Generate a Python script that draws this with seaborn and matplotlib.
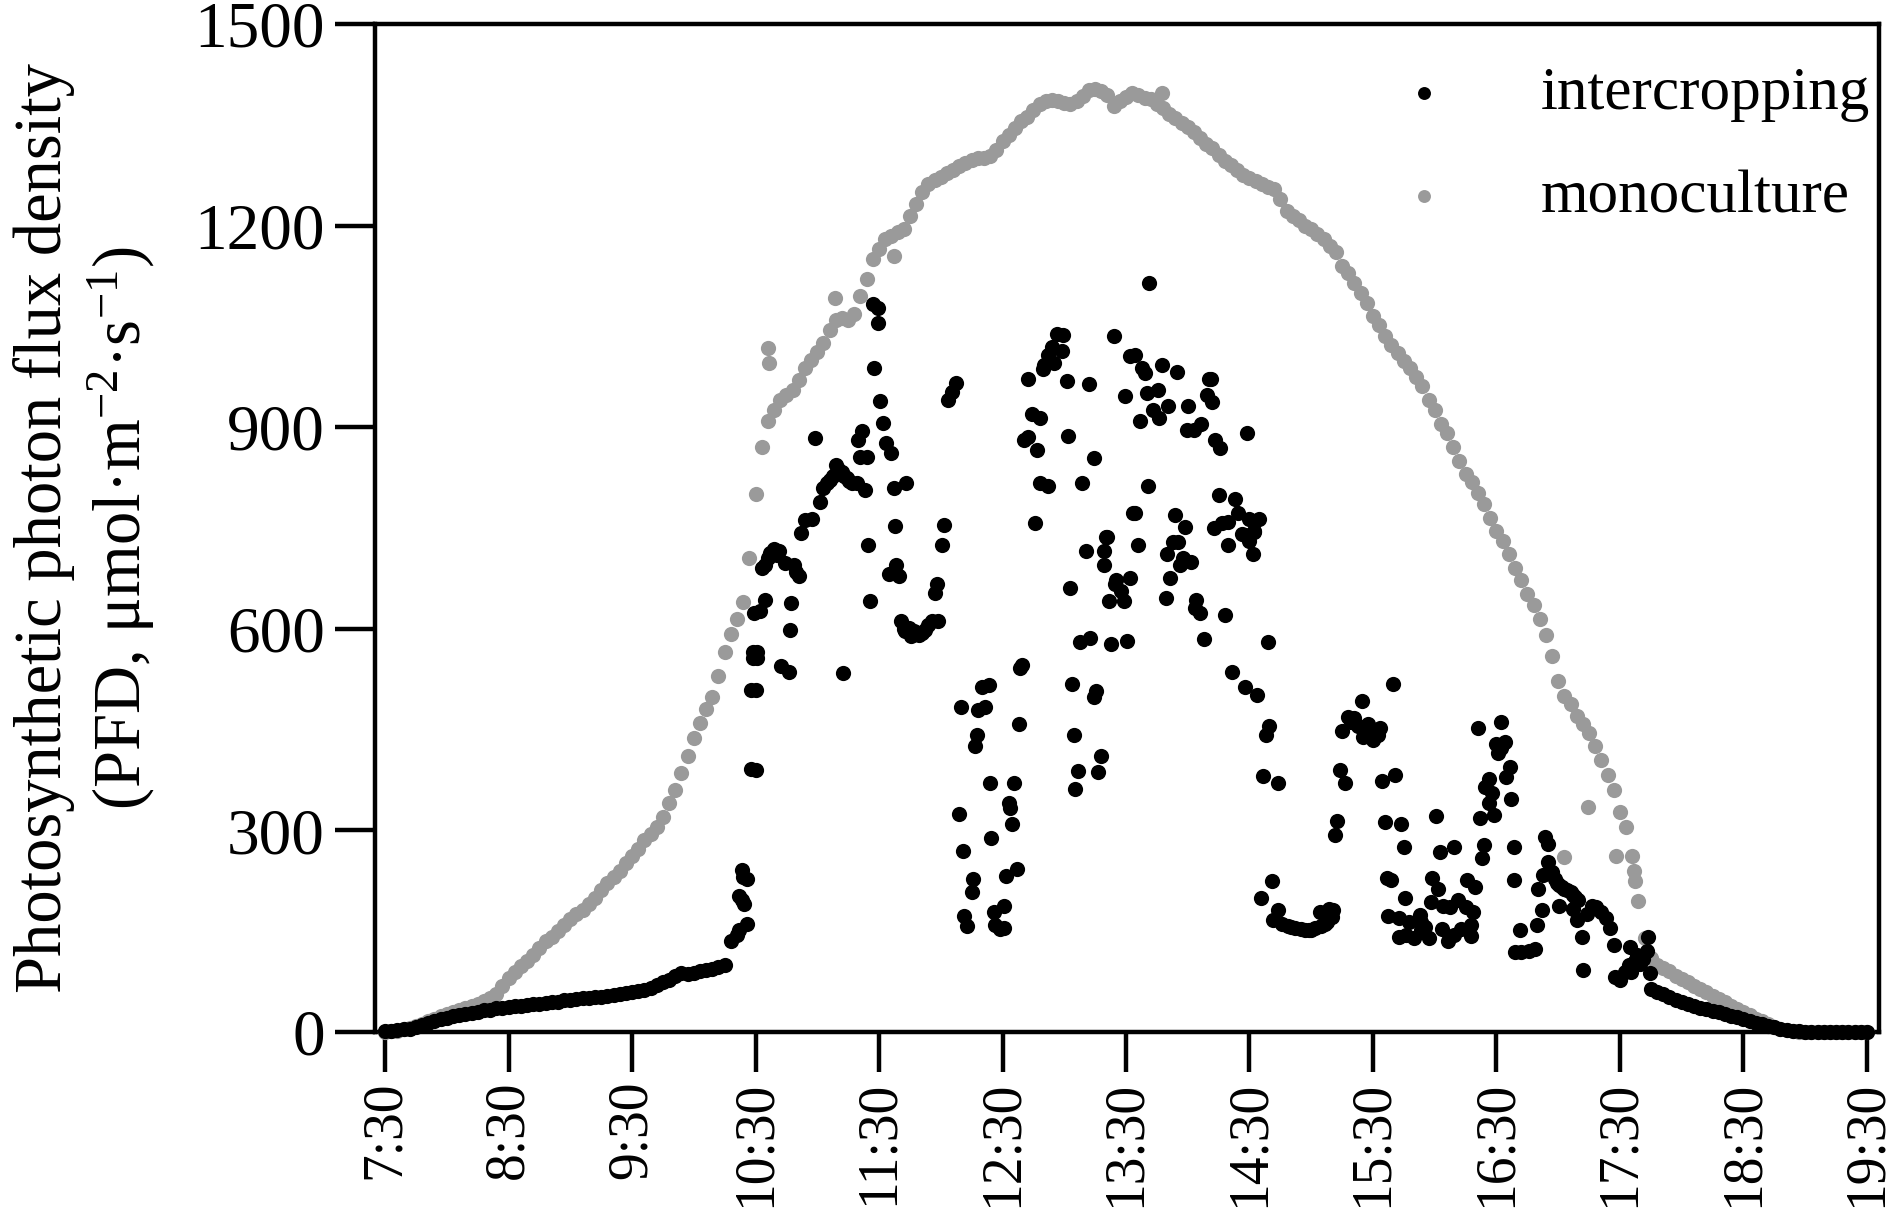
import numpy as np
import pandas as pd
import matplotlib
matplotlib.use('Agg')
import matplotlib.pyplot as plt
import seaborn as sns

# logger grid, minutes after 7:30 (every 3 min)
mono_minutes = np.arange(0, 721, 3)
mono_pfd = [
    0, 1, 2, 4, 6, 9, 12, 16, 20, 24, 27, 30, 33, 36, 39, 42, 46, 50, 57, 68,
    80, 89, 98, 106, 115, 125, 135, 142, 150, 159, 168, 175, 182, 191, 200, 211, 222, 231, 240, 251,
    262, 273, 285, 295, 305, 320, 340, 360, 385, 410, 437, 460, 480, 498, 530, 566, 592, 615, 640, 705,
    800, 870, 909, 925, 940, 948, 955, 970, 988, 1000, 1012, 1025, 1045, 1060, 1062, 1060, 1068, 1095, 1120, 1150,
    1165, 1180, 1185, 1190, 1195, 1215, 1232, 1250, 1262, 1268, 1272, 1278, 1283, 1288, 1293, 1297, 1300, 1301, 1303, 1312,
    1326, 1335, 1345, 1355, 1362, 1372, 1381, 1386, 1387, 1385, 1383, 1381, 1385, 1393, 1402, 1404, 1400, 1395, 1378, 1385,
    1392, 1398, 1395, 1390, 1388, 1381, 1375, 1366, 1360, 1352, 1347, 1340, 1330, 1322, 1316, 1305, 1296, 1290, 1282, 1275,
    1271, 1266, 1262, 1258, 1255, 1240, 1222, 1215, 1208, 1200, 1195, 1188, 1180, 1170, 1160, 1140, 1130, 1115, 1100, 1085,
    1065, 1052, 1035, 1022, 1010, 998, 988, 975, 962, 940, 925, 905, 892, 870, 850, 830, 818, 802, 785, 765,
    745, 730, 712, 690, 672, 651, 635, 615, 590, 560, 522, 500, 488, 470, 458, 445, 425, 405, 382, 360,
    328, 305, 262, 195, 140, 110, 100, 95, 90, 84, 79, 74, 69, 64, 59, 54, 49, 44, 39, 34,
    30, 25, 20, 16, 12, 8, 5, 3, 1, 0, 0, 0, 0, 0, 0, 0, 0, 0, 0, 0,
    0,
]

# monoculture readings (hour, PFD)
mono_extra = [
    (10.60, 1018), (10.61, 996), (11.14, 1092), (11.62, 1155), (13.79, 1398),
    (17.05, 261), (17.24, 335), (17.47, 262), (17.61, 240), (17.62, 224),
]

# intercropping: continuous parts at dawn and dusk
inter_am_minutes = np.arange(0, 166, 3)
inter_am_pfd = [
    2, 2, 3, 4, 5, 7, 10, 13, 16, 19,
    21, 23, 25, 27, 28, 30, 32, 33, 35, 36,
    37, 38, 39, 40, 41, 42, 43, 44, 45, 47,
    48, 49, 50, 51, 52, 52, 53, 55, 56, 58,
    59, 61, 63, 66, 70, 74, 78, 83, 88, 86,
    88, 90, 92, 94, 96, 99,
]
inter_pm_minutes = np.arange(615, 721, 3)
inter_pm_pfd = [
    64, 60, 56, 52, 47, 44, 41, 38, 36, 34,
    31, 29, 27, 24, 22, 20, 17, 14, 12, 9,
    7, 5, 3, 2, 1, 0, 0, 0, 0, 0,
    0, 0, 0, 0, 0, 0,
]

# intercropping: scattered readings under the canopy (hour, PFD)
inter_mid = [
    (10.30, 135), (10.35, 144), (10.37, 151), (10.43, 161), (10.39, 196), (10.41, 191),
    (10.37, 203), (10.40, 231), (10.43, 228), (10.39, 241), (10.46, 392), (10.46, 509),
    (10.48, 556), (10.48, 566), (10.49, 623),
    (10.50, 390), (10.50, 509), (10.51, 556), (10.51, 566), (10.54, 626), (10.55, 690),
    (10.58, 643), (10.58, 695), (10.60, 705), (10.62, 713), (10.65, 718), (10.67, 710),
    (10.69, 715), (10.71, 544), (10.74, 698), (10.77, 536), (10.78, 598), (10.79, 638),
    (10.81, 695), (10.83, 685), (10.85, 678), (10.87, 743), (10.90, 762), (10.96, 764),
    (10.98, 884), (11.02, 789), (11.05, 809), (11.08, 817), (11.10, 822), (11.13, 827),
    (11.15, 844), (11.17, 838), (11.20, 834), (11.22, 828), (11.24, 824), (11.26, 820),
    (11.28, 817), (11.32, 817), (11.21, 534),
    (11.33, 881), (11.36, 895), (11.35, 855), (11.40, 855), (11.39, 807), (11.41, 725),
    (11.43, 641), (11.45, 1083), (11.49, 1078), (11.49, 1055), (11.46, 988), (11.51, 939),
    (11.53, 906), (11.56, 876), (11.60, 861), (11.62, 809), (11.63, 753), (11.64, 695),
    (11.58, 681), (11.66, 679), (11.72, 817), (11.68, 611), (11.70, 600), (11.71, 596),
    (11.74, 601), (11.76, 589), (11.78, 596), (11.80, 592), (11.82, 591), (11.85, 594),
    (11.87, 598), (11.90, 606), (11.93, 611), (11.98, 611), (11.95, 653), (11.97, 667),
    (12.01, 725), (12.03, 754), (12.06, 940), (12.09, 953), (12.12, 966),
    (12.15, 324), (12.16, 484), (12.18, 269), (12.19, 173), (12.21, 158), (12.25, 209),
    (12.26, 228), (12.28, 425), (12.29, 442), (12.30, 479), (12.33, 514), (12.36, 484),
    (12.39, 517), (12.40, 371), (12.41, 288), (12.43, 178), (12.44, 159), (12.48, 153),
    (12.51, 154), (12.51, 187), (12.53, 232), (12.55, 340), (12.56, 334), (12.58, 310),
    (12.59, 371), (12.62, 243), (12.63, 458), (12.64, 541), (12.66, 546),
    (12.67, 881), (12.71, 886), (12.71, 972), (12.74, 920), (12.76, 757), (12.78, 866),
    (12.80, 913), (12.80, 817), (12.83, 986), (12.84, 993), (12.87, 1008), (12.87, 813),
    (12.90, 1019), (12.92, 996), (12.94, 1038), (12.98, 1013), (12.99, 1037), (13.02, 968),
    (13.03, 887), (13.14, 817), (13.20, 964), (13.24, 854), (13.40, 1035), (13.49, 947),
    (13.53, 1006),
    (13.05, 661), (13.06, 518), (13.08, 442), (13.09, 362), (13.11, 389), (13.13, 581),
    (13.18, 716), (13.21, 587), (13.24, 499), (13.26, 507), (13.27, 387), (13.30, 410),
    (13.32, 716), (13.32, 695), (13.34, 737), (13.35, 736), (13.36, 641), (13.38, 578),
    (13.41, 666), (13.42, 673), (13.46, 656), (13.48, 641), (13.51, 582), (13.53, 676),
    (13.56, 772),
    (13.57, 1008), (13.57, 772), (13.61, 909), (13.63, 988), (13.65, 981), (13.67, 951),
    (13.68, 812), (13.69, 1114), (13.72, 926), (13.76, 956), (13.77, 914), (13.79, 993),
    (13.84, 931), (13.90, 769), (13.91, 982), (13.98, 752), (13.99, 896), (14.00, 931),
    (14.05, 896), (14.11, 904), (14.16, 948), (14.17, 971), (14.19, 971), (14.20, 938),
    (14.21, 750), (14.22, 881), (14.25, 799), (14.26, 869), (14.28, 758), (14.33, 759),
    (14.38, 793), (14.41, 772), (14.46, 740), (14.48, 891), (14.50, 764), (14.54, 745),
    (14.58, 764),
    (13.60, 725), (13.82, 646), (13.83, 711), (13.86, 676), (13.88, 729), (13.92, 729),
    (13.94, 695), (13.96, 705), (14.03, 700), (14.06, 631), (14.07, 643), (14.10, 623),
    (14.13, 585), (14.30, 620), (14.33, 724), (14.36, 536), (14.44, 741), (14.46, 513),
    (14.50, 730), (14.53, 712), (14.54, 744), (14.56, 501), (14.59, 200), (14.61, 381),
    (14.63, 442), (14.65, 581), (14.66, 456), (14.68, 224), (14.73, 370),
    (14.69, 166), (14.73, 182), (14.76, 161), (14.81, 158), (14.84, 156), (14.87, 154),
    (14.92, 153), (14.95, 152), (14.98, 151), (15.00, 152), (15.03, 154), (15.07, 179),
    (15.08, 158), (15.11, 161), (15.13, 164), (15.14, 183), (15.17, 171), (15.18, 181),
    (15.19, 293), (15.21, 314), (15.23, 390), (15.25, 448), (15.27, 370), (15.30, 469),
    (15.32, 462), (15.35, 467), (15.38, 455), (15.41, 492), (15.42, 439), (15.44, 448),
    (15.46, 459), (15.48, 444), (15.50, 434), (15.54, 442), (15.56, 452), (15.57, 374),
    (15.60, 312), (15.61, 229), (15.62, 173), (15.65, 226), (15.66, 518), (15.68, 382),
    (15.71, 170), (15.71, 141), (15.73, 309), (15.75, 275), (15.76, 200), (15.77, 144),
    (15.79, 164), (15.83, 140), (15.88, 174), (15.89, 164), (15.89, 151), (15.92, 156),
    (15.95, 140), (15.97, 194), (15.98, 229), (16.01, 321), (16.03, 212), (16.04, 268),
    (16.06, 153), (16.07, 188), (16.11, 136), (16.12, 186), (16.16, 275), (16.16, 144),
    (16.19, 196), (16.21, 153), (16.25, 186), (16.26, 226), (16.29, 143), (16.29, 159),
    (16.31, 178), (16.33, 215),
    (16.35, 453), (16.37, 319), (16.38, 259), (16.40, 278), (16.41, 365), (16.44, 376),
    (16.44, 340), (16.46, 355), (16.48, 323), (16.50, 429), (16.51, 415), (16.54, 462),
    (16.54, 422), (16.57, 432), (16.58, 380), (16.61, 395), (16.62, 347), (16.64, 275),
    (16.64, 226), (16.69, 151), (16.65, 119), (16.70, 119), (16.76, 121), (16.81, 124),
    (16.83, 159), (16.87, 181), (16.84, 213), (16.88, 233), (16.89, 290), (16.92, 280),
    (16.92, 253), (16.95, 238), (16.97, 228), (16.99, 222), (17.01, 218), (17.03, 215),
    (17.05, 213), (17.07, 211), (17.10, 208), (17.12, 204), (17.14, 201), (17.16, 196),
    (17.01, 188), (17.12, 183), (17.15, 166), (17.19, 141), (17.20, 92), (17.23, 176),
    (17.27, 188), (17.31, 186), (17.35, 178), (17.39, 169), (17.42, 154), (17.45, 129),
    (17.46, 82), (17.50, 77), (17.54, 89), (17.57, 99), (17.58, 126), (17.59, 89),
    (17.62, 106), (17.64, 114), (17.66, 101), (17.69, 109), (17.72, 121), (17.73, 141),
    (17.74, 87),
]

tick_hours = [7.5, 8.5, 9.5, 10.5, 11.5, 12.5, 13.5, 14.5, 15.5, 16.5, 17.5, 18.5, 19.5]
tick_labels = ['7:30', '8:30', '9:30', '10:30', '11:30', '12:30', '13:30',
               '14:30', '15:30', '16:30', '17:30', '18:30', '19:30']
pfd_ticks = [0, 300, 600, 900, 1200, 1500]

BLACK = '#000000'
GRAY = '#9a9a9a'


def build_frames():
    mono_hours = list(7.5 + mono_minutes / 60) + [h for h, _ in mono_extra]
    mono_vals = list(mono_pfd) + [v for _, v in mono_extra]
    mono = pd.DataFrame({'hour': mono_hours, 'pfd': mono_vals})

    inter_hours = (list(7.5 + inter_am_minutes / 60) + [h for h, _ in inter_mid]
                   + list(7.5 + inter_pm_minutes / 60))
    inter_vals = list(inter_am_pfd) + [v for _, v in inter_mid] + list(inter_pm_pfd)
    inter = pd.DataFrame({'hour': inter_hours, 'pfd': inter_vals})
    return mono, inter


def main():
    sns.set_theme(style='ticks')
    plt.rcParams['font.family'] = ['Liberation Serif', 'DejaVu Serif']
    plt.rcParams['mathtext.fontset'] = 'custom'
    plt.rcParams['mathtext.rm'] = 'Liberation Serif'
    plt.rcParams['mathtext.default'] = 'regular'
    # seaborn greys the text, the figure uses plain black
    for key in ['text.color', 'axes.labelcolor', 'xtick.color', 'ytick.color',
                'xtick.labelcolor', 'ytick.labelcolor']:
        plt.rcParams[key] = 'black'

    mono, inter = build_frames()

    fig = plt.figure(figsize=(19, 12.24), dpi=100)
    ax = fig.add_axes([0.1974, 0.1569, 0.7915, 0.8235])

    # monoculture first so the intercropping dots sit on top
    sns.scatterplot(data=mono, x='hour', y='pfd', color=GRAY, s=120, linewidth=0,
                    clip_on=False, label='monoculture', ax=ax, zorder=3)
    sns.scatterplot(data=inter, x='hour', y='pfd', color=BLACK, s=120, linewidth=0,
                    clip_on=False, label='intercropping', ax=ax, zorder=4)

    ax.set_xlim(7.419, 19.597)
    ax.set_ylim(0, 1500)
    ax.set_xticks(tick_hours, tick_labels, rotation=90)
    ax.set_yticks(pfd_ticks)
    ax.set_xlabel('')
    ax.set_ylabel('Photosynthetic photon flux density\n(PFD, μmol·m$^{-2}$·s$^{-1}$)',
                  fontsize=48, linespacing=1.2)
    ax.yaxis.set_label_coords(-0.145, 0.5)

    for side in ['left', 'right', 'top', 'bottom']:
        ax.spines[side].set_visible(True)
        ax.spines[side].set_linewidth(3.2)
        ax.spines[side].set_color('black')
    ax.tick_params(axis='both', direction='out', length=29, width=3.2, color='black')
    ax.tick_params(axis='x', labelsize=40, pad=6)
    ax.tick_params(axis='y', labelsize=47, pad=7)

    handles, labels = ax.get_legend_handles_labels()
    order = [labels.index('intercropping'), labels.index('monoculture')]
    ax.legend([handles[i] for i in order], [labels[i] for i in order],
              loc='upper right', bbox_to_anchor=(1.0, 0.967), frameon=False,
              fontsize=44, markerscale=0.85, handletextpad=0.9, labelspacing=0.77,
              borderaxespad=0.0, borderpad=0.15)

    fig.savefig('out.png', dpi=100)
    plt.close(fig)


if __name__ == '__main__':
    main()
